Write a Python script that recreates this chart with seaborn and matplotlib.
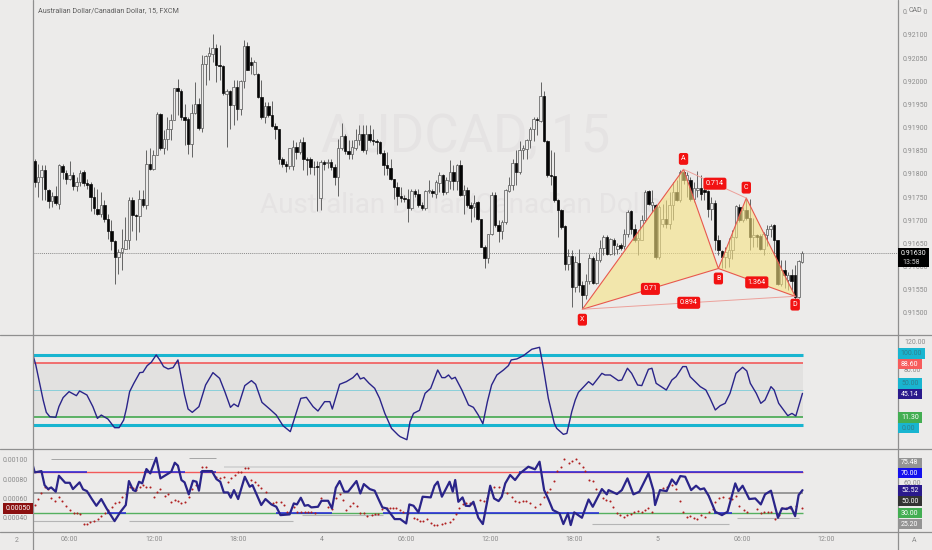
import numpy as np
import pandas as pd
import seaborn as sns
from matplotlib import pyplot as plt
from matplotlib.lines import Line2D
from matplotlib.patches import Rectangle

# candles, price offset from 0.91000 in 0.00001 steps
open_pts = [829,783,793,808,766,742,752,736,817,803,790,797,773,783,804,781,778,750,725,714,734,703,678,655,621,631,639,657,743,711,709,745,734,822,810,842,929,855,876,898,917,986,979,923,918,865,932,950,899,1038,1054,1058,1071,1035,1032,973,979,948,988,941,1001,1076,1042,1015,1015,966,922,946,927,904,896,832,822,817,817,858,847,869,833,833,816,815,749,825,824,826,814,794,855,881,850,844,857,873,886,851,886,873,871,869,846,819,812,790,771,752,749,747,727,763,756,732,727,763,763,756,781,797,761,785,804,785,819,754,766,732,729,740,702,642,619,670,754,689,676,696,763,776,824,804,851,853,873,898,918,915,968,871,797,795,743,722,687,606,624,556,608,560,538,569,619,565,615,641,664,628,658,639,646,644,670,720,682,657,658,700,763,733,733,620,693,703,693,732,761,743,805,787,787,745,766,770,765,764,725,738,658,633,621,619,635,664,729,700,723,706,663,669,666,639,668,682,689,657,563,592,572,581,583,535,610]
close_pts = [783,793,808,768,742,752,737,819,804,790,797,773,783,803,780,777,750,727,714,734,703,678,655,621,631,641,657,743,711,709,747,734,822,810,842,930,855,876,898,917,986,979,923,917,865,932,952,899,1038,1054,1060,1071,1035,1032,975,979,948,988,941,1001,1076,1025,1035,1042,966,922,946,927,904,896,832,822,817,855,858,847,869,832,831,815,814,814,826,822,826,814,794,855,881,850,844,858,873,886,851,886,873,871,869,846,819,812,790,771,752,749,747,727,763,756,732,727,763,763,758,783,797,761,786,804,785,819,754,766,732,727,737,702,642,619,670,754,689,676,696,765,776,824,804,851,855,873,898,918,916,968,871,797,795,743,722,686,606,624,556,610,560,538,569,619,565,614,641,664,628,659,646,644,641,670,718,682,657,661,700,761,736,740,620,729,703,693,732,761,743,805,787,797,745,769,770,756,761,725,738,658,635,621,632,635,664,730,700,722,704,664,668,664,639,670,682,687,657,563,592,581,581,570,535,612,630]
high_pts = [833,822,819,819,768,761,775,822,822,808,829,804,793,808,808,790,783,772,768,761,743,714,700,657,639,682,707,750,750,714,765,765,851,855,851,934,932,894,923,930,986,1006,984,952,923,952,999,963,1056,1056,1074,1103,1081,1078,1035,984,981,1002,1002,1002,1089,1085,1053,1045,1017,1002,955,955,958,909,898,837,829,855,873,869,876,880,837,837,829,829,830,830,833,833,822,876,910,887,873,873,898,905,905,905,905,898,876,871,851,848,833,790,783,772,754,768,768,768,768,740,765,786,768,786,804,801,794,830,819,822,830,776,772,740,754,741,703,646,671,761,761,700,700,768,794,833,851,871,862,876,902,922,923,999,979,873,851,848,747,725,689,639,635,624,639,570,585,628,624,632,657,668,668,661,661,650,650,682,722,722,693,679,711,765,766,765,736,733,736,743,761,783,787,808,808,805,794,783,807,797,772,766,751,743,668,637,643,661,679,733,736,729,747,747,704,671,671,675,689,692,692,658,614,614,589,596,603,614,633]
low_pts = [772,750,743,743,727,729,732,725,790,779,786,765,763,775,775,768,721,714,711,707,696,660,635,563,585,592,639,639,678,657,675,729,725,808,808,840,852,844,851,873,916,927,916,862,844,837,930,894,891,991,1002,1042,999,1002,970,858,898,905,916,927,986,1024,1015,1013,963,919,909,923,901,876,822,815,804,811,808,833,844,808,797,801,797,721,723,808,812,808,776,752,851,844,833,833,851,862,848,844,869,862,844,844,797,797,786,747,732,740,740,696,722,750,729,722,723,758,750,749,761,754,756,768,765,765,752,714,729,696,707,700,642,598,608,668,686,653,660,693,761,765,776,801,833,833,855,871,884,912,869,794,776,740,664,682,592,592,513,545,545,509,531,563,562,563,610,625,625,625,625,628,635,639,664,671,653,626,657,697,733,718,617,617,686,684,682,700,741,740,779,751,742,740,751,743,743,707,700,635,625,597,597,599,617,661,697,697,700,635,643,643,635,625,644,664,625,560,558,553,549,549,531,533,608]

# harmonic pattern X A B C D
pattern_names = ['X', 'A', 'B', 'C', 'D']
pattern_bars = [157, 186, 196, 204, 218]
pattern_pts = [508, 810, 596, 748, 536]
ratio_labels = ['0.71', '0.714', '1.364', '0.894']

# upper oscillator
osc_bars = [0,.8,1.9,2.9,3.8,4.8,6.5,7.4,8.6,10.3,12.4,13.3,15.4,17.1,18.4,19.5,21.4,23.3,24.6,25.9,26.7,27.6,28.8,30.5,31.4,32.6,33.8,35.2,36.2,37.3,38.6,40,41.4,42.4,43.3,44.3,45.5,47.4,49.3,51.4,53.3,54.8,56.4,57.4,58.6,60.5,62.4,63.6,65.4,67.6,69.5,71.4,73.5,75,76.5,78.1,80,81.4,83.3,84.8,85.5,87.6,89.5,91.4,92.6,93.5,94.5,96,97.6,99,100.5,102.4,104.3,
            104.9,106.8,107.7,108.7,110.4,112,113.6,115.6,116.8,117.7,118.7,119.6,120.6,122.5,124.4,125.8,127.2,128.5,129.8,131,132.5,134.4,135.8,136.6,138.2,140.1,142.5,144.7,145.8,147.2,148.9,149.6,151.5,152.5,153.9,154.9,155.8,158.7,159.9,162.5,163.4,164.9,167.2,168.2,169.8,171,172.7,173.9,175.8,176.8,178,180.9,182.5,183.7,185.6,186.6,187.7,190.6,192.2,193.4,194.9,196.3,197.7,199.1,200.8,202.7,203.9,204.9,206.6,207.9,209.1,210.8,211.7,213,215.6,216.8,217.9,219.8]
osc_vals = [100,86,59.6,35.6,17.8,11.5,10.6,26,39,47.6,41.8,48.6,42.8,26,9.1,13.9,8.2,-4.3,-4.3,6.7,23.6,47.6,59.6,75,75.5,85,90,100.5,93.3,83.7,80.3,82.2,93.3,66.8,42.8,22.6,17.8,26,57.2,75,66.8,47.6,25,29.8,26,56.3,63.5,58.2,32.2,22.6,13.9,-1.4,-10,13.9,38,39.4,26,19.7,33.2,33.2,22.6,58.2,62,67.8,74,65.9,67.8,59.6,52.4,38,16.3,-5.3,-14.9,
            -17.3,-21.6,4.3,16.3,20.7,45.2,52.4,78.8,67.8,67.8,71.6,65.9,68.3,50,28.4,25,13.9,1.4,33.2,57.2,71.6,78.8,85.1,93.3,94.7,99.5,108.7,111.5,81.3,38,1.9,-5.3,-13.9,-12.5,18.8,35.6,46.6,62,57.2,74,71.6,71.6,63.5,64.4,81.3,74,57.2,56.3,79.8,81.3,59.6,50,64.4,69.2,83.7,83.7,69.2,54.8,50,38,21.2,27.4,30.8,45.2,74,82.7,77.4,59.6,45.2,30.8,35.6,54.8,50,30.8,13,16.3,12.5,45.14]

# lower oscillator, thick line
rsi_bars = [0,.5,2.4,3.3,4.3,5.2,6.5,7.4,9.2,10.5,11.4,13.3,14.3,15.4,16.7,18.1,19.5,21,23.3,25,26.5,27.4,28.6,29.3,30.3,31.2,32.4,33.5,35.2,36.4,39.5,40.5,41.4,42.4,43.3,44.5,45.7,46.7,47.4,48.3,51.1,52.4,53.5,54.5,55.7,56.5,57.4,58.6,60.5,61.9,62.7,65.2,66.4,68.1,69.5,70.7,73.3,74.5,75.4,76.5,77.6,78.6,79.5,81.4,82.4,84.3,85.4,86.5,87.6,88.9,90,92.4,93.5,94.5,96.2,97.6,98.6,99.8,101,103.3,
            104.9,106.6,107.5,108.7,110.1,111.3,113.6,114.7,115.6,116.8,119,119.9,120.6,121.5,122.7,123.6,124.7,125.8,127.2,128.5,130.6,131.7,133,133.9,134.9,136.3,137.7,139.1,141.5,143.4,144.7,146,147.2,148.5,150.4,151.5,152.8,153.6,154.6,156.8,158.7,159.9,162.5,163.9,164.4,166.8,168.2,169.8,171.5,173.2,175.8,177.2,177.7,179.1,181,182.5,183.7,184.9,186.3,188,189.4,190.6,191.7,193,194.9,196.8,198.4,200.6,201.5,202.7,204.6,206.3,207.9,209.1,210.8,212.8,213.9,215.3,216.5,217.7,218.7,219.8]
rsi_vals = [76.2,70,71.3,57.5,53.6,55.2,51,66.7,59.8,59.8,53.6,60.2,53.3,51.6,44.4,37.2,43.8,34.6,22.1,31.3,37.9,61.5,52.6,51.6,60.8,59.2,73.3,69,84.4,64.1,70.7,79.5,76.6,62.5,60.2,48.4,61.8,60.8,52,71.3,71.3,63.4,60.8,50.3,50.3,45.1,52.6,43.8,65.7,55.9,57.5,37.9,43.8,38.5,36.2,28,28.7,39.5,38.5,45.1,37.2,37.9,35.6,36.2,42.1,42.1,34.6,54.9,61.5,51,51,61.5,49.3,58.5,53.6,52,44.4,35.6,34.6,24.1,
            24.1,19.8,38.5,37.2,30.7,46.1,45.4,56.9,60.8,46.1,60.8,51,62.5,41.1,45.4,37.2,36.9,41.1,25.4,19.2,56.9,44.4,41.8,46.1,59.2,67.4,62.5,69,75.6,73,80.5,52.6,43.8,33,29.7,19.2,29.7,18.2,30.7,25.4,43.4,36.2,53.6,48.4,52.6,48.7,52.6,64.1,48.4,51,69,52.6,37.9,52.6,51.6,63.1,58.2,66.4,65.7,52.6,56.9,53.3,54.3,47,31.3,28,31.3,59.2,51.6,56.9,43.8,44.4,38.5,48.4,52,25.4,34.6,34,36.2,27,47.7,52.52]

# lower oscillator, red dots
dot_bars = [.5,1.4,2.4,3.3,4.3,5.2,6.2,7.4,8.4,9.5,10.5,11.6,12.6,13.5,14.5,15.4,16.4,17.5,18.5,19.4,20.5,21.4,22.6,23.5,24.5,25.4,26.7,27.6,28.6,29.5,30.5,31.4,32.4,33.3,34.5,35.4,36.4,37.6,38.6,39.5,40.5,41.4,42.4,43.3,44.5,45.5,46.7,48.3,49.3,50.5,51.4,52.4,53.3,54.5,55.7,56.7,57.6,58.6,59.5,60.5,61.4,62.4,63.3,64.3,65.2,66.5,68.6,69.5,70.7,71.6,72.6,74.5,75.5,76.5,77.6,78.6,79.5,80.5,82.4,84.3,85.4,86.5,87.6,88.6,89.5,90.5,91.4,92.6,93.5,94.5,95.5,96.7,97.6,98.6,99.8,101,101.9,102.9,103.8,
            104.9,105.8,107.1,108.7,109.6,110.6,111.5,112.5,113.6,114.6,115.5,116.8,117.7,119,119.9,120.9,121.8,122.8,123.7,124.9,125.8,127.7,128.7,129.8,131.7,133,134.2,135.3,136.8,137.7,138.7,139.9,140.9,142,143.4,144.7,146,146.8,147.7,148.9,149.8,150.8,151.7,153,153.9,155,156,157,157.7,158.7,159.9,160.9,162.7,163.6,164.9,165.8,166.8,167.7,168.7,169.6,170.8,171.8,172.7,173.9,174.9,175.8,176.8,180.1,181,182.5,183.7,184.9,185.8,186.8,187.7,188.7,189.8,190.9,192,193,194.1,194.9,196,197.1,198.7,199.6,200.8,201.8,203,203.9,206.8,207.9,208.9,209.9,210.8,212,213,213.9,215,216.3,217.9,219.8]
dot_vals = [37.9,43.4,49.3,55.9,53.6,45.1,42.1,46.1,42.1,36.9,32.9,29.7,30.3,28.7,19.5,19.5,21.5,22.1,24.1,27.4,30.3,32.9,36.2,39.5,41.1,45.4,48.4,55.9,54.3,52.6,55.9,57.5,55.9,55.2,46.1,51,53.6,47,48.7,41.1,42.8,42.1,39.5,41.1,46.1,53.6,57.5,75.6,74.9,71.3,70,65.7,64.1,65.7,60.8,64.1,67.4,70,70,73.9,73.9,62.5,60.8,57.5,54.9,51,39.5,40.5,41.1,37.9,31.3,35.6,31.3,31.3,31.3,31.3,31.3,30.3,45.1,36.2,33.9,44.4,48.4,42.8,32.9,37.2,39.5,37.2,30,30,27,28,28.7,29,33.9,34.6,34.6,35.2,35.2,
            32.9,31.3,30.3,25.4,24.1,22.1,22.5,24.1,19.8,18.2,18.2,18.8,19.8,21.5,24.1,28.7,35.2,38.8,39.5,39.5,38.5,42.8,42.1,44.4,55.9,55.9,52.6,49.3,45.4,42.1,40.5,42.1,42.1,39.5,36.2,38.5,46.1,51,53.6,61.8,71.3,75.6,83.1,78.9,81.2,83.1,78.9,74.9,71.3,62.5,61.8,53.6,44.4,42.8,42.1,36.2,30.3,28,26.4,28,28.7,31.3,32.3,31.3,32.9,34.6,31.3,54.9,55.9,57.5,53.6,42.1,30.6,26.4,27.4,25.4,23.8,28,26.4,31.3,33.6,41.1,44.4,46.1,44.4,43.8,47,37.2,32.9,31.3,33.9,29.7,31.3,31.3,30.6,24.1,28,34.6,35.2,35.2,37.2,34.6]

# swing lines in the lower oscillator: start bar, end bar, level
swing_starts = [5.2, 44.6, 54.5, 0, 27.4, 76.7, 159.8, 201]
swing_ends = [34.3, 52.4, 143, 22.9, 74.3, 100, 198.7, 218.7]
swing_levels = [83.1, 84.1, 75.6, 22.5, 22.5, 28, 18.9, 25.4]

# coloured stretches of the 70 and 30 levels
upper_blue_starts = [0, 31.7, 47.6, 138.9]
upper_blue_ends = [15.4, 43.3, 52.4, 220]
lower_blue_starts = [21, 69.5, 100, 194.6]
lower_blue_ends = [26.5, 85.4, 161.7, 199.7]

price_ticks = [0.915, 0.9155, 0.916, 0.9165, 0.917, 0.9175, 0.918, 0.9185, 0.919, 0.9195, 0.92, 0.9205, 0.921, 0.9215]
time_bars = [10.5, 34.5, 58.5, 82.5, 106.5, 130.5, 154.5, 178.5, 202.5, 226.5]
time_labels = ['06:00', '12:00', '18:00', '4', '06:00', '12:00', '18:00', '5', '06:00', '12:00']
macd_ticks = [0.001, 0.0008, 0.0006, 0.0004]

BG = '#ecebea'
AXIS = '#8f8f8f'
TICK = '#8c8c8c'
NAVY = '#2a2489'
W, H = 932, 550


def to_price(points):
    return 0.91 + np.asarray(points) / 1e5


def panel(top, bottom):
    return fig.add_axes([33 / W, 1 - bottom / H, (897.7 - 33) / W, (bottom - top) / H])


def clean(ax, xlim=(0, 247)):
    ax.set_facecolor('none')
    ax.set_xlim(*xlim)
    ax.set_xlabel('')
    ax.set_ylabel('')
    ax.grid(False)
    for side in ax.spines.values():
        side.set_visible(False)


def tag(x0, x1, y0, y1, text, color, text_color='white'):
    fig.add_artist(Rectangle((x0 / W, 1 - y1 / H), (x1 - x0) / W, (y1 - y0) / H,
                             transform=fig.transFigure, facecolor=color, edgecolor='none', zorder=5))
    fig.text((x0 + x1) / 2 / W, 1 - (y0 + y1) / 2 / H, text, color=text_color, fontsize=5,
             ha='center', va='center', zorder=6)


sns.set_theme(style='white')
plt.rcParams['font.family'] = ['Roboto', 'DejaVu Sans']

fig = plt.figure(figsize=(W / 100, H / 100), dpi=100, facecolor=BG)

# price panel
candles = pd.DataFrame({'bar': np.arange(len(open_pts)), 'open': to_price(open_pts), 'close': to_price(close_pts),
                        'high': to_price(high_pts), 'low': to_price(low_pts)})
up = candles['close'] >= candles['open']
ax = panel(0, 335)
clean(ax, (-.49, 247.4))
ax.set_ylim(0.91 + 452.5 / 1e5, 0.91 + 1175.4 / 1e5)
ax.text(.5, .59, 'AUDCAD, 15', transform=ax.transAxes, fontsize=38, color='#e5e3e3', ha='center', va='center', zorder=0)
ax.text(.5, .388, 'Australian Dollar/Canadian Dollar', transform=ax.transAxes, fontsize=20, color='#e5e3e3', ha='center', va='center', zorder=0)
ax.axhline(0.9163, color='#666666', lw=.5, ls=(0, (1.5, 1.5)), zorder=1)
ax.vlines(candles['bar'], candles['low'], candles['high'], color='#5a5a5a', lw=.65, zorder=2)
ax.bar(candles['bar'], (candles['close'] - candles['open']).where(lambda s: s.abs() > 1e-5, 1.5e-5), bottom=candles['open'], width=.72,
       color=np.where(up, BG, '#050505'), edgecolor=np.where(up, '#555555', '#0a0a0a'), linewidth=.5, zorder=3)

px = np.array(pattern_bars)
py = to_price(pattern_pts)
ax.fill(px[:3], py[:3], color='#f7e383', alpha=.6, lw=0, zorder=4)
ax.fill(px[2:], py[2:], color='#f7e383', alpha=.6, lw=0, zorder=4)
ax.plot(px[[0, 1, 2, 3, 4]], py[[0, 1, 2, 3, 4]], color='#e8584d', lw=.8, zorder=5)
ax.plot(px[[0, 2]], py[[0, 2]], color='#e8584d', lw=.8, zorder=5)
ax.plot(px[[2, 4]], py[[2, 4]], color='#e8584d', lw=.8, zorder=5)
ax.plot(px[[0, 4]], py[[0, 4]], color='#eda09a', lw=.7, zorder=5)
ax.plot(px[[1, 3]], py[[1, 3]], color='#eda09a', lw=.7, zorder=5)
red_box = dict(boxstyle='round,pad=.35,rounding_size=.3', fc='#f21212', ec='none')
offsets = [-7.5, 7.5, -7.2, 7.5, -6]
for name, bx, by, off in zip(pattern_names, px, py, offsets):
    ax.annotate(name, (bx, by), xytext=(0, off), textcoords='offset points', color='white', fontsize=5,
                ha='center', va='center', bbox=red_box, zorder=7)
for label, pair in zip(ratio_labels, [(0, 2), (1, 3), (2, 4), (0, 4)]):
    ax.text(px[list(pair)].mean(), py[list(pair)].mean(), label, color='white', fontsize=5.2,
            ha='center', va='center', bbox=red_box, zorder=7)
ax.set_xticks([])
ax.yaxis.tick_right()
ax.set_yticks(price_ticks)
ax.set_yticklabels([f'{p:.5f}' for p in price_ticks])
ax.tick_params(axis='y', length=0, pad=3.7, labelsize=5, labelcolor=TICK)
fig.text(38 / W, 1 - 11 / H, 'Australian Dollar/Canadian Dollar, 15, FXCM', fontsize=5.2, color='#5d5d5d', va='center')

# upper oscillator
osc = panel(335, 449)
clean(osc)
osc.fill_between([0, 220], 11.3, 88.6, color='#e2e1e0', lw=0)
osc.hlines(100, 0, 220, color='#19b5d0', lw=2.2)
osc.hlines(0, 0, 220, color='#19b5d0', lw=2.2)
osc.hlines(88.6, 0, 220, color='#f25a5a', lw=1.2)
osc.hlines(11.3, 0, 220, color='#43a84f', lw=1.2)
osc.hlines(50, 0, 220, color='#7cccd8', lw=.6)
sns.lineplot(x=osc_bars, y=osc_vals, sort=False, estimator=None, color=NAVY, lw=1, ax=osc, zorder=4)
clean(osc)
osc.set_ylim(-35, 129.2)
osc.set_xticks([])
osc.yaxis.tick_right()
osc.set_yticks([120, 80])
osc.set_yticklabels(['120.00', '80.00'])
osc.tick_params(axis='y', length=0, pad=4.5, labelsize=5, labelcolor=TICK)

# lower oscillator
low = panel(449, 532)
clean(low)
low.hlines(swing_levels[:2], swing_starts[:2], swing_ends[:2], color='#a5a5a5', lw=.7)
low.hlines(swing_levels[2], swing_starts[2], swing_ends[2], color='#cfcfcf', lw=1.1)
low.hlines(swing_levels[3:], swing_starts[3:], swing_ends[3:], color='#b5b5b5', lw=.8)
low.hlines(70, 0, 220, color='#f25a5a', lw=1)
low.hlines([70] * len(upper_blue_starts), upper_blue_starts, upper_blue_ends, color='#2222dd', lw=1.1)
low.hlines(50, 0, 220, color='#8a8a8a', lw=1.2)
low.hlines(30, 0, 220, color='#55b060', lw=1)
low.hlines([30] * len(lower_blue_starts), lower_blue_starts, lower_blue_ends, color='#2222dd', lw=1.1)
sns.scatterplot(x=dot_bars, y=dot_vals, color='#b02020', s=2.2, linewidth=0, ax=low, zorder=3)
sns.lineplot(x=rsi_bars, y=rsi_vals, sort=False, estimator=None, color=NAVY, lw=1.6, ax=low, zorder=4)
clean(low)
low.set_ylim(11.4, 93)
low.set_xticks(time_bars)
low.set_xticklabels(time_labels)
low.tick_params(axis='x', length=0, pad=3.2, labelsize=5, labelcolor=TICK)

macd = low.twinx()
clean(macd)
macd.set_ylim(0.000254, 0.001113)
macd.yaxis.tick_left()
macd.set_yticks(macd_ticks)
macd.set_yticklabels([f'{v:.5f}' for v in macd_ticks])
macd.tick_params(axis='y', length=0, pad=3.5, labelsize=5, labelcolor=TICK)

# twinx moves the ticks of the first axes to the left, so set them after it
low.yaxis.tick_right()
low.set_yticks([60])
low.set_yticklabels(['60.00'])
low.tick_params(axis='y', length=0, pad=4.5, labelsize=5, labelcolor=TICK)

# frame lines
for y in (335, 449, 532):
    fig.add_artist(Line2D([0, 1], [1 - y / H] * 2, color=AXIS, lw=.9, zorder=4))
for x in (33, 897.7):
    fig.add_artist(Line2D([x / W] * 2, [0, 1], color=AXIS, lw=.9, zorder=4))

# price tags on the scales
tag(897.7, 929, 248, 267, '', '#000000')
fig.text(913.5 / W, 1 - 253.5 / H, '0.91630', color='white', fontsize=5, ha='center', va='center', zorder=6)
fig.text(911 / W, 1 - 262 / H, '13:58', color='#cccccc', fontsize=5, ha='center', va='center', zorder=6)
tag(908, 923, 5, 15, 'CAD', '#efeeed', '#777777')
tag(897.7, 925, 348.3, 359, '100.00', '#19b5d0', '#2f7f8f')
tag(897.7, 922, 359, 369, '88.60', '#f75c5c')
tag(897.7, 922, 378.3, 389, '50.00', '#19b5d0', '#2f7f8f')
tag(897.7, 922, 389.3, 399.3, '45.14', '#2b1a8c')
tag(897.7, 922, 412.3, 422.7, '11.30', '#43ae52')
tag(897.7, 918.5, 423, 433, '0.00', '#19b5d0', '#2f7f8f')
tag(897.7, 922, 457.7, 467.7, '75.48', '#949494')
tag(897.7, 922, 468.3, 478.3, '70.00', '#1410ee')
tag(897.7, 922, 485.3, 495.7, '52.52', '#2b1a8c')
tag(897.7, 922, 496.3, 506.3, '50.00', '#333333')
tag(897.7, 922, 508, 518.3, '30.00', '#43ae52')
tag(897.7, 922, 519, 529, '25.20', '#949494')
tag(2.7, 33, 502.7, 513.7, '0.00050', '#8b1010')
fig.text(16.7 / W, 1 - 540 / H, '2', color=TICK, fontsize=5, ha='center', va='center')
fig.text(914.5 / W, 1 - 540 / H, 'A', color=TICK, fontsize=5, ha='center', va='center')

fig.savefig('out.png', dpi=100, facecolor=BG)
